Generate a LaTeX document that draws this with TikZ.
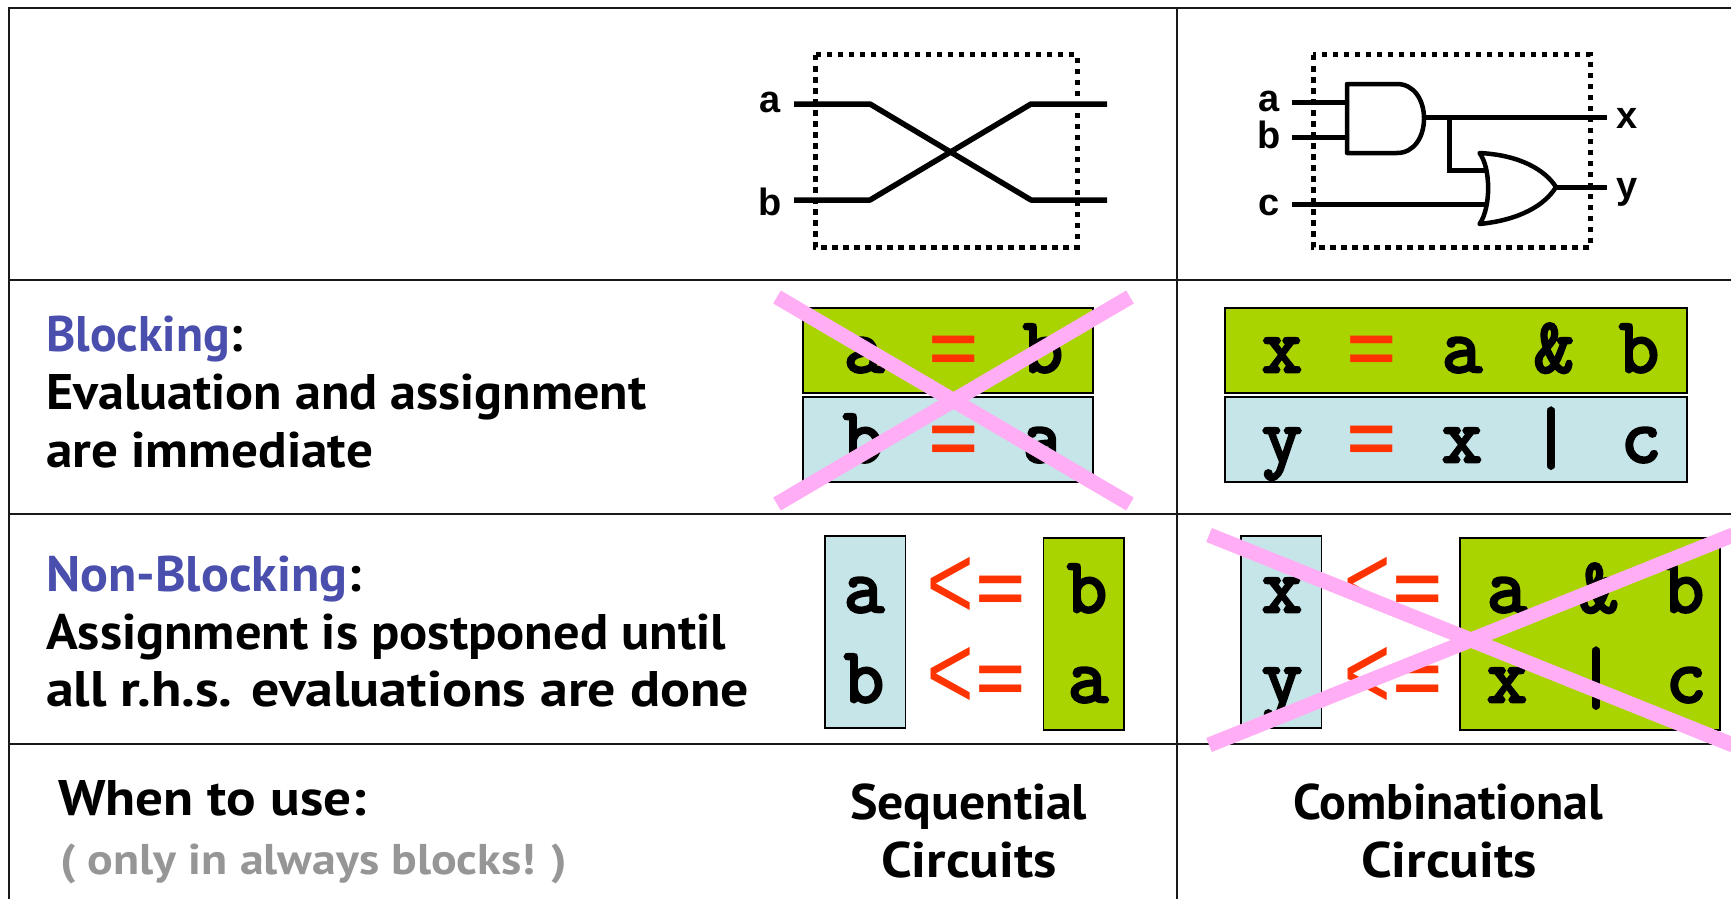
\documentclass[tikz,border=0pt]{standalone}
\usepackage{fontspec}
\usepackage{graphicx}
\setmainfont{PT Sans}
\newfontfamily\labfont{Liberation Sans}
\newfontfamily\opfont{Liberation Mono}
\newfontfamily\codefont[FakeBold=3.6]{Latin Modern Mono}
\definecolor{greenbox}{HTML}{AAD400}
\definecolor{bluebox}{HTML}{C6E5E8}
\definecolor{redop}{HTML}{FF3300}
\definecolor{crosspink}{HTML}{FFAEF6}
\definecolor{headblue}{HTML}{4A4FAE}
\definecolor{softgray}{HTML}{969696}
\newcommand\fitw[2]{\resizebox{#1pt}{\height}{#2}}
\newcommand\eqop{\scalebox{1.2}[1]{=}}
\newcommand\ltop{\raisebox{-6.5pt}{\scalebox{1.15}[1.5]{\mdseries <}}\kern1pt\eqop}
\tikzset{
  grid/.style={line width=1.6pt,black!90},
  wire/.style={line width=5.5pt,black},
  thinwire/.style={line width=5pt,black,line join=miter},
  gate/.style={line width=4.5pt,black,line join=round},
  dotbox/.style={line width=5pt,black,dash pattern=on 5.5pt off 5.5pt},
  pinkx/.style={line width=15pt,crosspink},
  gbox/.style={fill=greenbox,draw=black,line width=1.5pt,inner sep=0pt},
  bbox/.style={fill=bluebox,draw=black,line width=1.5pt,inner sep=0pt},
  wideb/.style={minimum width=290pt,minimum height=85pt},
  wider/.style={minimum width=462pt,minimum height=85pt},
  tallb/.style={minimum width=80.5pt,minimum height=192pt},
  pin/.style={inner sep=0pt,anchor=base,font=\labfont\bfseries\fontsize{38}{38}\selectfont},
  code/.style={inner sep=0pt,anchor=base,font=\codefont\fontsize{78}{78}\selectfont},
  opr/.style={inner sep=0pt,anchor=base,text=redop,font=\opfont\bfseries\fontsize{70}{70}\selectfont},
  say/.style={inner sep=0pt,anchor=base west,font=\bfseries\fontsize{50}{60}\selectfont},
  saymid/.style={inner sep=0pt,anchor=base,font=\bfseries\fontsize{50}{60}\selectfont},
}
\begin{document}
\begin{tikzpicture}[x=1pt,y=-1pt]
\useasboundingbox (0,0) rectangle (1731,899);
\fill[white] (0,0) rectangle (1731,899);
% table
\draw[grid] (1731,8) -- (9,8) -- (9,899);
\draw[grid] (1177,8) -- (1177,899);
\draw[grid] (9,280) -- (1731,280);
\draw[grid] (9,514) -- (1731,514);
\draw[grid] (9,744) -- (1731,744);
% left circuit
\draw[dotbox] (815,55) rectangle (1077,247);
\coordinate (ain) at (794,104); \coordinate (ak1) at (870,104);
\coordinate (ak2) at (1031,200); \coordinate (aout) at (1107,200);
\coordinate (bin) at (794,200); \coordinate (bk1) at (870,200);
\coordinate (bk2) at (1031,104); \coordinate (bout) at (1107,104);
\draw[wire,line join=round] (ain) -- (ak1) -- (ak2) -- (aout);
\draw[wire,line join=round] (bin) -- (bk1) -- (bk2) -- (bout);
\node[pin] (la) at (770,112) {a};
\node[pin] (lb) at (770,215) {b};
% right circuit
\draw[dotbox] (1313,55) rectangle (1590,247);
\draw[gate] (1347,84) -- (1397,84) .. controls (1414,84) and (1424,100) .. (1424,118.5) .. controls (1424,137) and (1414,153) .. (1397,153) -- (1347,153) -- cycle;
\draw[gate] (1479.5,153) .. controls (1520,155) and (1545,170) .. (1556,187) .. controls (1545,205) and (1520,220) .. (1479.5,224) .. controls (1491,208) and (1491,168) .. (1479.5,153) -- cycle;
\coordinate (and1) at (1347,102); \coordinate (and2) at (1347,137);
\coordinate (inA) at (1292,102); \coordinate (inB) at (1292,137);
\coordinate (inC) at (1292,204); \coordinate (or2) at (1488,204);
\coordinate (andout) at (1424,117); \coordinate (xout) at (1607,117);
\coordinate (tap) at (1449,117); \coordinate (tapd) at (1449,170); \coordinate (or1) at (1486,170);
\coordinate (orout) at (1556,187); \coordinate (yout) at (1607,187);
\draw[thinwire] (inA) -- (and1);
\draw[thinwire] (inB) -- (and2);
\draw[thinwire] (inC) -- (or2);
\draw[thinwire] (andout) -- (xout);
\draw[thinwire] (tap) -- (tapd) -- (or1);
\draw[thinwire] (orout) -- (yout);
\node[pin] (ra) at (1269,111) {a};
\node[pin] (rb) at (1269,148) {b};
\node[pin] (rc) at (1269,215) {c};
\node[pin] (rx) at (1627,128) {x};
\node[pin] (ry) at (1627,198) {y};
% blocking row boxes
\node[gbox,wideb] (g1) at (948,350.5) {};
\node[bbox,wideb] (b1) at (948,439.5) {};
\node[gbox,wider] (g2) at (1456,350.5) {};
\node[bbox,wider] (b2) at (1456,439.5) {};
\node[code] (c1) at (864,372) {a};
\node[opr] (c2) at (954,372) {\eqop};
\node[code] (c3) at (1043,372) {b};
\node[code] (c4) at (863,462) {b};
\node[opr] (c5) at (954,462) {\eqop};
\node[code] (c6) at (1043,462) {a};
\node[code] (d1) at (1282,372) {x};
\node[opr] (d2) at (1372,372) {\eqop};
\node[code] (d3) at (1462,372) {a};
\node[code] (d4) at (1554,372) {\&};
\node[code] (d5) at (1639,372) {b};
\node[code] (d6) at (1282,462) {y};
\node[opr] (d7) at (1372,462) {\eqop};
\node[code] (d8) at (1462,462) {x};
\node[code] (d9) at (1551,462) {|};
\node[code] (d10) at (1641,462) {c};
% non-blocking row boxes
\node[bbox,tallb] (b3) at (865.25,632) {};
\node[gbox,tallb] (g3) at (1083.5,634) {};
\node[bbox,tallb] (b4) at (1281.25,632) {};
\node[gbox,minimum width=260pt,minimum height=192pt] (g4) at (1590,634) {};
\node[code] (e1) at (864,612) {a};
\node[opr] (e2) at (976,612) {\ltop};
\node[code] (e3) at (1087,612) {b};
\node[code] (e4) at (864,702) {b};
\node[opr] (e5) at (976,702) {\ltop};
\node[code] (e6) at (1088,702) {a};
\node[code] (f1) at (1282,612) {x};
\node[opr] (f2) at (1393,612) {\ltop};
\node[code] (f3) at (1507,612) {a};
\node[code] (f4) at (1599,612) {\&};
\node[code] (f5) at (1684,612) {b};
\node[code] (f6) at (1282,702) {y};
\node[opr] (f7) at (1393,702) {\ltop};
\node[code] (f8) at (1507,702) {x};
\node[code] (f9) at (1596,702) {|};
\node[code] (f10) at (1686,702) {c};
% crosses
\coordinate (p1) at (777,297); \coordinate (p2) at (1130,504);
\coordinate (p3) at (777,504); \coordinate (p4) at (1130,297);
\draw[pinkx] (p1) -- (p2);
\draw[pinkx] (p3) -- (p4);
\coordinate (q1) at (1209,535); \coordinate (q2) at (1733,745);
\coordinate (q3) at (1209,745); \coordinate (q4) at (1733,535);
\draw[pinkx] (q1) -- (q2);
\draw[pinkx] (q3) -- (q4);
% text
\node[say] (t1) at (46,351) {\fitw{197}{\textcolor{headblue}{Blocking}:}};
\node[say] (t2) at (46,409.5) {\fitw{600}{Evaluation and assignment}};
\node[say] (t3) at (46,467) {\fitw{327}{are immediate}};
\node[say] (t4) at (46,591) {\fitw{315}{\textcolor{headblue}{Non-Blocking}:}};
\node[say] (t5) at (46,649) {\fitw{680}{Assignment is postponed until}};
\node[say] (t6) at (46,706) {\fitw{703}{all r.h.s. evaluations are done}};
\node[say] (t7) at (58,815) {\fitw{308}{When to use:}};
\node[say,font=\bfseries\fontsize{43}{50}\selectfont,text=softgray] (t8) at (60,874) {\fitw{507}{( only in always blocks! )}};
\node[saymid] (t9) at (968.5,819) {\fitw{237}{Sequential}};
\node[saymid] (t10) at (969,877) {\fitw{176}{Circuits}};
\node[saymid] (t11) at (1448,819) {\fitw{310}{Combinational}};
\node[saymid] (t12) at (1449,877) {\fitw{176}{Circuits}};
\end{tikzpicture}
\end{document}
